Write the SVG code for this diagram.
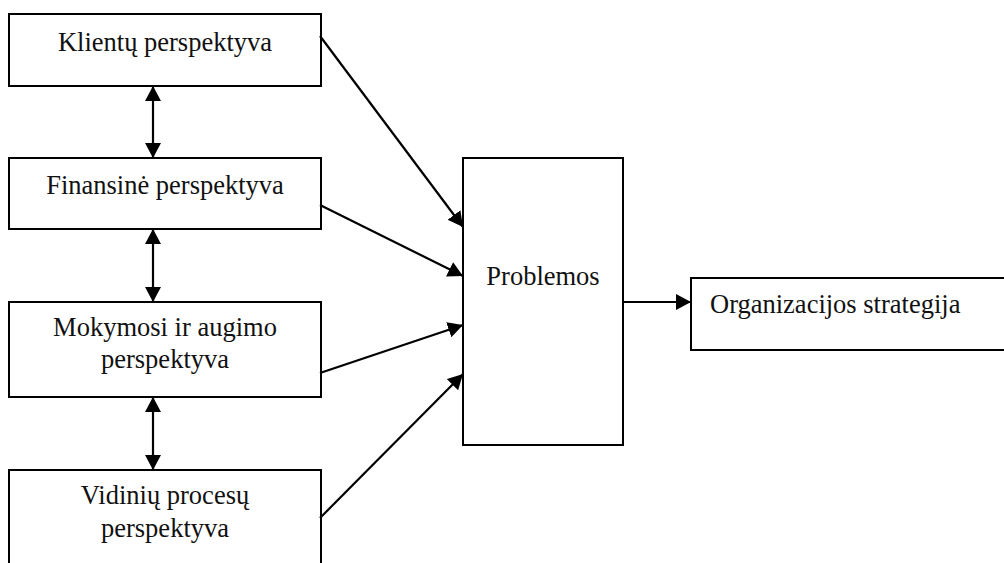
<svg xmlns="http://www.w3.org/2000/svg" width="1004" height="563" viewBox="0 0 1004 563">
  <style>
    .box { fill: #ffffff; stroke: #000000; stroke-width: 2; }
    text { font-family: 'Liberation Serif', 'Times New Roman', Times, Tinos, 'DejaVu Serif', serif; font-size: 26.5px; fill: #111111; }
    .mid { text-anchor: middle; }
    .conn { stroke: #000000; stroke-width: 2.2; fill: none; }
  </style>
  <defs>
    <marker id="head" markerUnits="userSpaceOnUse" markerWidth="16" markerHeight="17" refX="15" refY="8" orient="auto-start-reverse">
      <path d="M0,0 L15,8 L0,16 Z" fill="#000000"/>
    </marker>
  </defs>
  <rect width="1004" height="563" fill="#ffffff"/>

  <g id="klientu">
    <rect class="box" x="9" y="14" width="312" height="72"/>
    <text class="mid" x="165" y="51" font-family="Liberation Serif, serif">Klientų perspektyva</text>
  </g>

  <g id="finansine">
    <rect class="box" x="9" y="158" width="312" height="71"/>
    <text class="mid" x="165" y="194" font-family="Liberation Serif, serif">Finansinė perspektyva</text>
  </g>

  <g id="mokymosi">
    <rect class="box" x="9" y="302" width="312" height="95"/>
    <text class="mid" x="165" y="336" font-family="Liberation Serif, serif">Mokymosi ir augimo</text>
    <text class="mid" x="165" y="368" font-family="Liberation Serif, serif">perspektyva</text>
  </g>

  <g id="vidiniu">
    <rect class="box" x="9" y="470" width="312" height="110"/>
    <text class="mid" x="165" y="504" font-family="Liberation Serif, serif">Vidinių procesų</text>
    <text class="mid" x="165" y="537" font-family="Liberation Serif, serif">perspektyva</text>
  </g>

  <g id="problemos">
    <rect class="box" x="463" y="158" width="160" height="287"/>
    <text class="mid" x="543" y="285" font-family="Liberation Serif, serif">Problemos</text>
  </g>

  <g id="strategija">
    <rect class="box" x="691" y="278" width="320" height="72"/>
    <text x="710" y="313" font-family="Liberation Serif, serif">Organizacijos strategija</text>
  </g>

  <g id="connectors">
    <line class="conn" x1="153" y1="86" x2="153" y2="158" marker-start="url(#head)" marker-end="url(#head)"/>
    <line class="conn" x1="153" y1="229" x2="153" y2="302" marker-start="url(#head)" marker-end="url(#head)"/>
    <line class="conn" x1="153" y1="397" x2="153" y2="470" marker-start="url(#head)" marker-end="url(#head)"/>
    <line class="conn" x1="320" y1="36" x2="463" y2="227" marker-end="url(#head)"/>
    <line class="conn" x1="320" y1="205" x2="463" y2="276" marker-end="url(#head)"/>
    <line class="conn" x1="320" y1="373" x2="463" y2="325" marker-end="url(#head)"/>
    <line class="conn" x1="320" y1="518" x2="463" y2="374" marker-end="url(#head)"/>
    <line class="conn" x1="623" y1="302" x2="691" y2="302" marker-end="url(#head)"/>
  </g>
</svg>
